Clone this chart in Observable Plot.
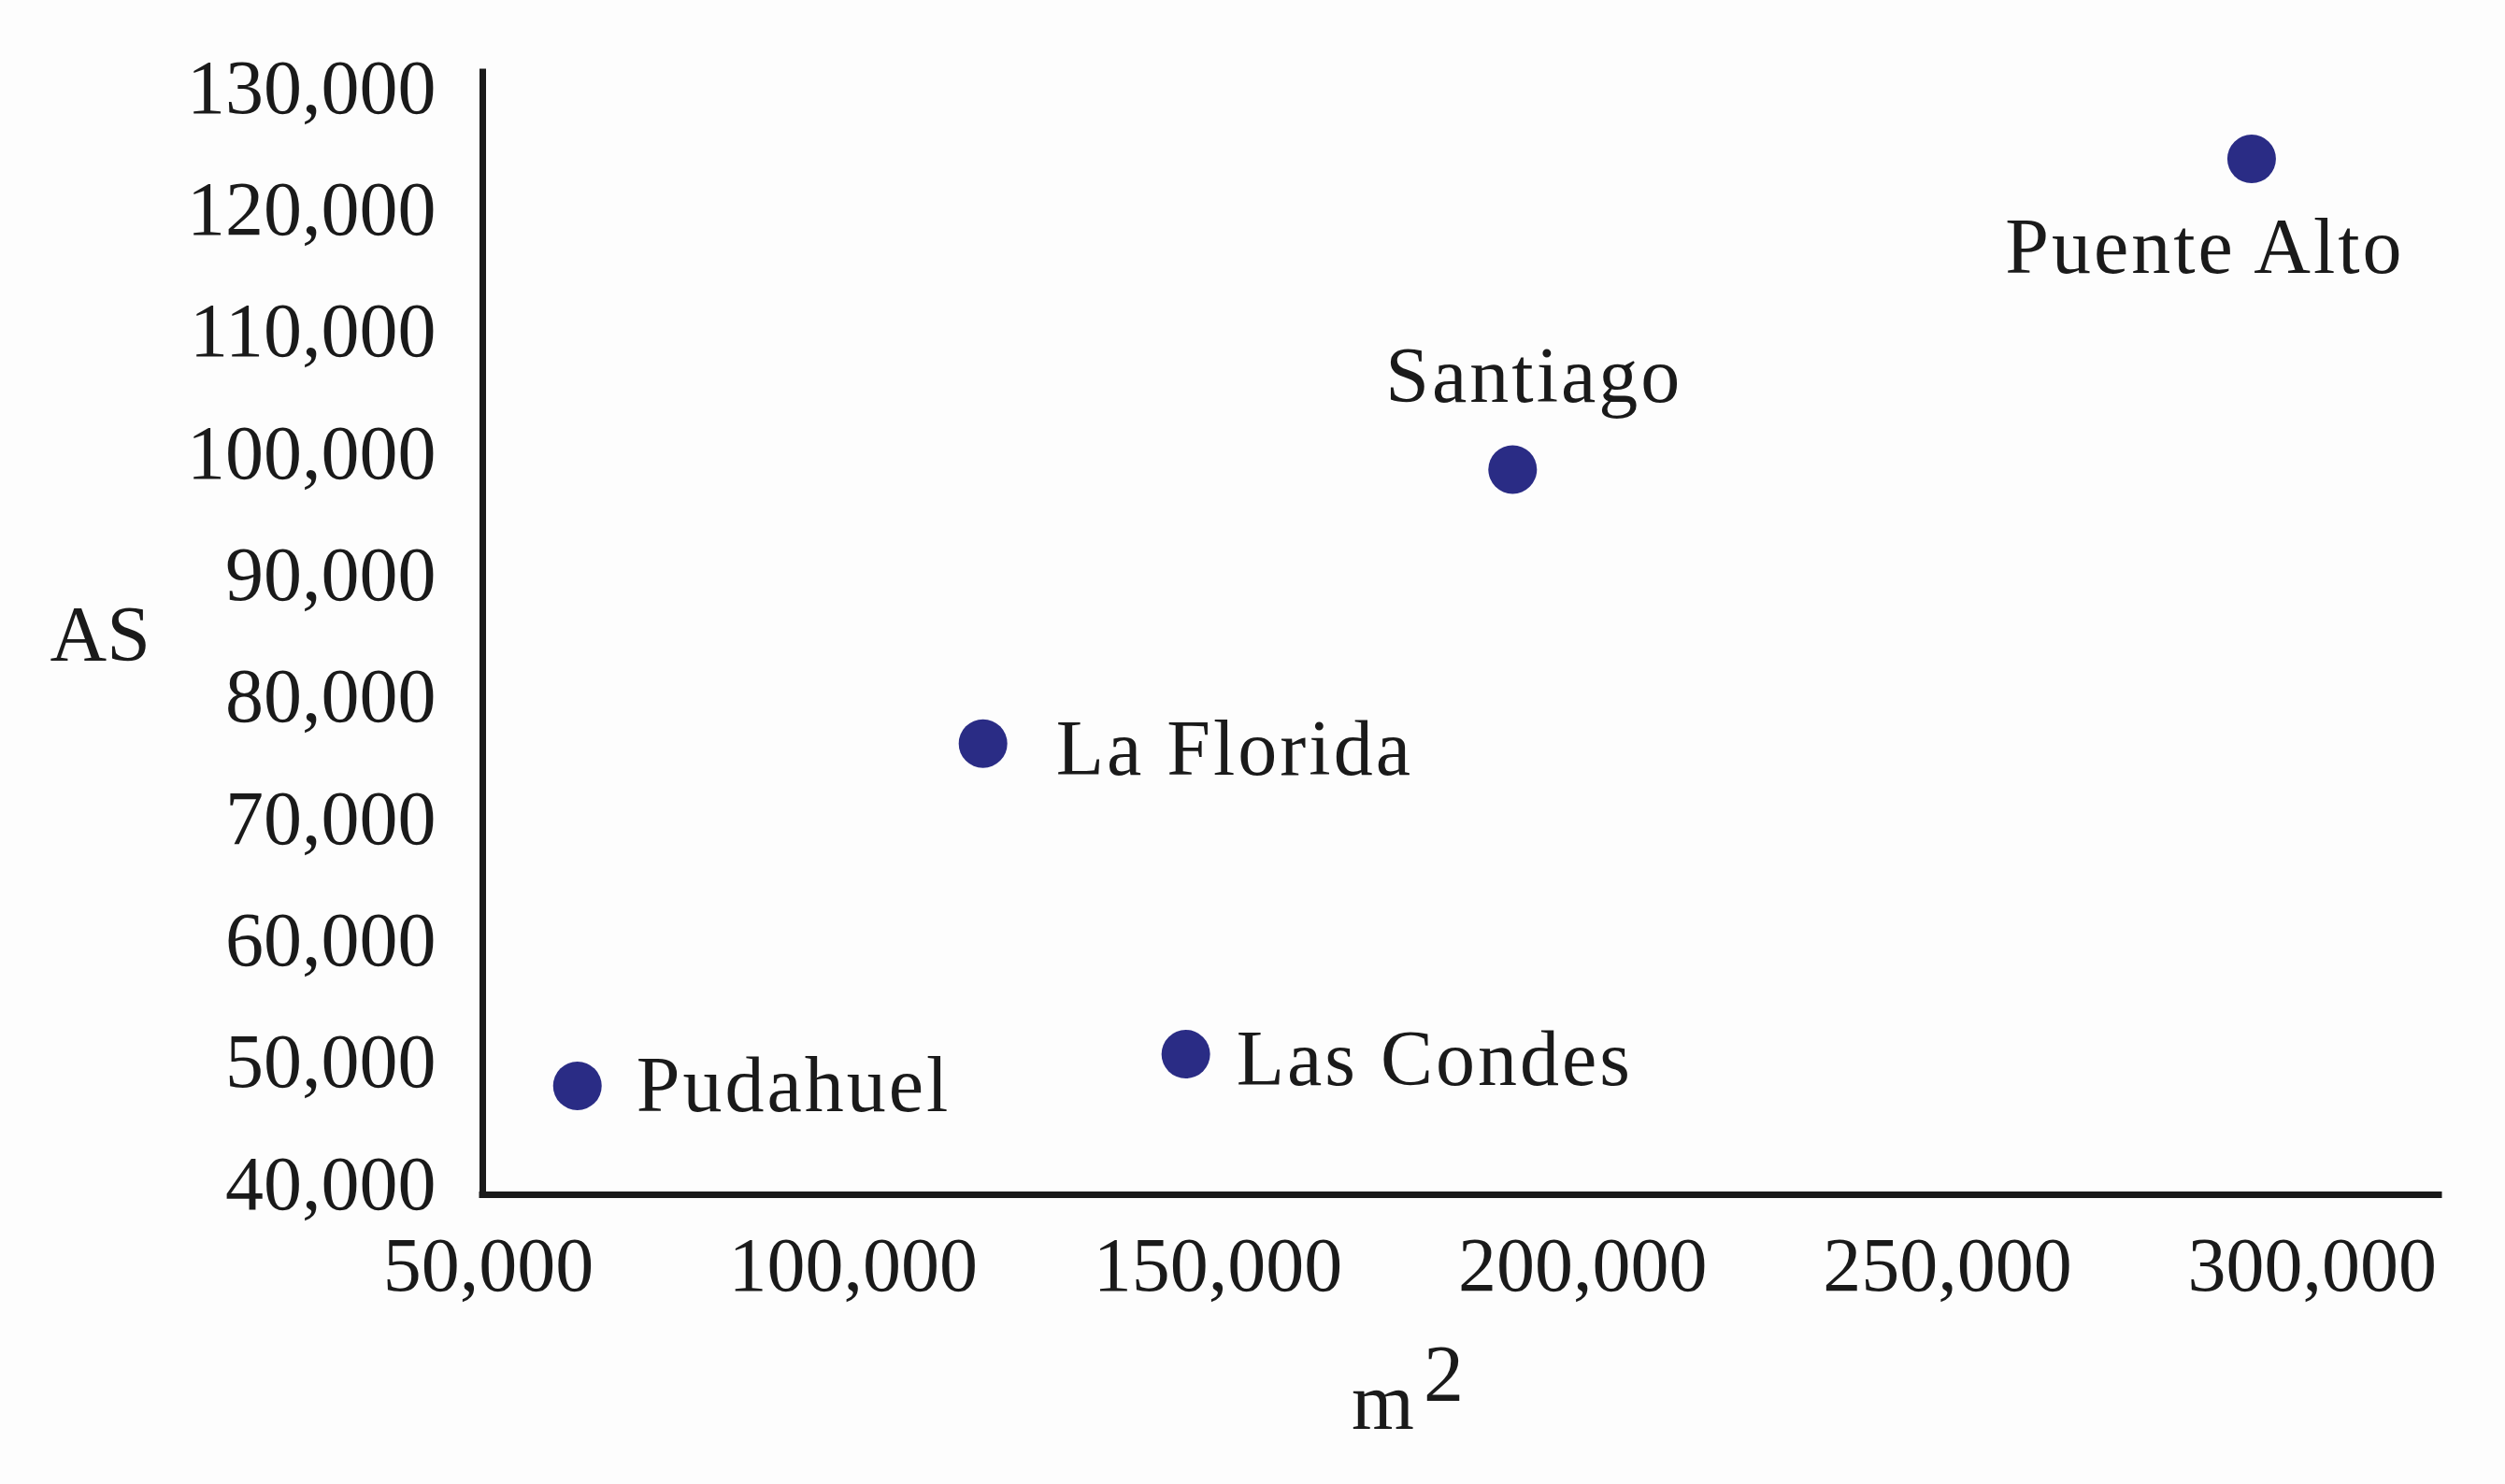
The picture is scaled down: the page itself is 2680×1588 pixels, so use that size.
<!DOCTYPE html>
<html>
<head>
<meta charset="utf-8">
<script src="https://cdn.jsdelivr.net/npm/d3@7"></script>
<script src="https://cdn.jsdelivr.net/npm/@observablehq/plot@0.6"></script>
<style>
  html, body { margin: 0; padding: 0; background: #fdfdfd; }
  #chart svg { display: block; }
</style>
</head>
<body>
<div id="chart"></div>
<script>
// ---- Data ----
const comunas = ["Pudahuel", "La Florida", "Las Condes", "Santiago", "Puente Alto"];
const areaM2  = [62200, 117800, 145600, 190400, 291700];
const asValues = [48100, 76200, 50700, 98700, 124200];
const xTicks = [50000, 100000, 150000, 200000, 250000, 300000];
const yTicks = [40000, 50000, 60000, 70000, 80000, 90000, 100000, 110000, 120000, 130000];
const xTitle = "m";
const xTitleSup = "2";
const yTitle = "AS";

const data = comunas.map((c, i) => ({comuna: c, x: areaM2[i], y: asValues[i]}));

// ---- Layout / style ----
const xDomain = [49230, 317400];
const yDomain = [39160, 131300];
const ink = "#1a1a1a";
const dotColor = "#2a2c85";
const font = "'Liberation Serif', 'Times New Roman', serif";
const fmt = d3.format(",");

const placement = {
  "Pudahuel":    {textAnchor: "start",  lineAnchor: "middle", dx: 63,  dy: 0},
  "La Florida":  {textAnchor: "start",  lineAnchor: "middle", dx: 78,  dy: 6},
  "Las Condes":  {textAnchor: "start",  lineAnchor: "middle", dx: 54,  dy: 6},
  "Santiago":    {textAnchor: "middle", lineAnchor: "bottom", dx: 23,  dy: -72},
  "Puente Alto": {textAnchor: "middle", lineAnchor: "bottom", dx: -50, dy: 122}
};

const labelMarks = comunas.map(c => Plot.text(data.filter(d => d.comuna === c), {
  x: "x", y: "y", text: "comuna",
  ...placement[c],
  fontSize: 84, fill: ink, fontFamily: font
}));

const chart = Plot.plot({
  width: 2680,
  height: 1588,
  marginLeft: 516,
  marginRight: 71,
  marginTop: 77,
  marginBottom: 310,
  style: {background: "#fdfdfd", fontFamily: font, color: ink, fontSize: "82px"},
  x: {domain: xDomain},
  y: {domain: yDomain},
  marks: [
    Plot.axisX({ticks: xTicks, tickFormat: fmt, tickSize: 0, tickPadding: 44, label: null, fontSize: 82, fill: ink}),
    Plot.axisY({ticks: yTicks, tickFormat: fmt, tickSize: 0, tickPadding: 50, label: null, fontSize: 82, fill: ink}),
    Plot.ruleX([xDomain[0]], {stroke: ink, strokeWidth: 7, strokeLinecap: "square"}),
    Plot.ruleY([yDomain[0]], {stroke: ink, strokeWidth: 7, strokeLinecap: "square"}),
    Plot.dot(data, {x: "x", y: "y", r: 26, fill: dotColor, stroke: "none"}),
    ...labelMarks,
    Plot.text([yTitle], {frameAnchor: "left", text: d => d, textAnchor: "start", dx: -463, dy: 2, fontSize: 84, fill: ink, fontFamily: font}),
    Plot.text([xTitle], {frameAnchor: "bottom", text: d => d, textAnchor: "start", lineAnchor: "bottom", dx: -117, dy: 250, fontSize: 86, fill: ink, fontFamily: font}),
    Plot.text([xTitleSup], {frameAnchor: "bottom", text: d => d, textAnchor: "start", lineAnchor: "bottom", dx: -40, dy: 220, fontSize: 86, fill: ink, fontFamily: font})
  ]
});

// slightly wider lettering for the point labels (reference uses a wider serif)
d3.select(chart).selectAll("text")
  .filter(function() { return comunas.includes(this.textContent); })
  .style("letter-spacing", "3px");

document.getElementById("chart").appendChild(chart);
</script>
</body>
</html>
